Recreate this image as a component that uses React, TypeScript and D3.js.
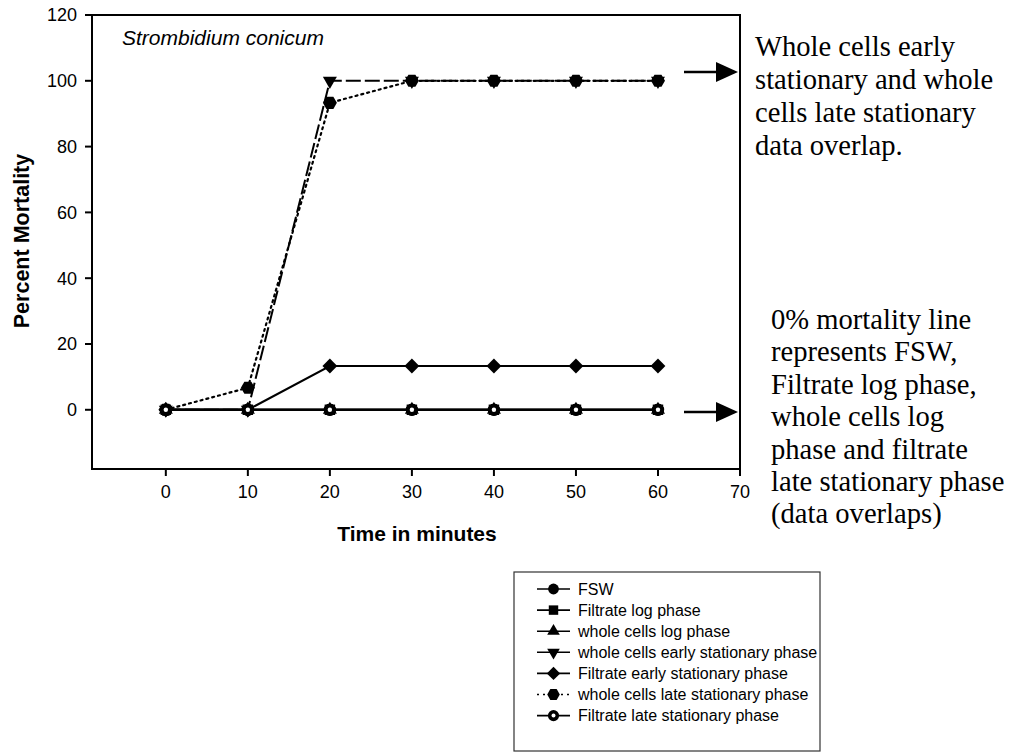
import React from "react";
import * as d3 from "d3";

const timeMinutes = [0, 10, 20, 30, 40, 50, 60];
const fsw = [0, 0, 0, 0, 0, 0, 0];
const filtrateLog = [0, 0, 0, 0, 0, 0, 0];
const wholeCellsLog = [0, 0, 0, 0, 0, 0, 0];
const wholeCellsEarly = [0, 0, 100, 100, 100, 100, 100];
const filtrateEarly = [0, 0, 13.3, 13.3, 13.3, 13.3, 13.3];
const wholeCellsLate = [0, 6.7, 93.3, 100, 100, 100, 100];
const filtrateLate = [0, 0, 0, 0, 0, 0, 0];

const seriesNames = [
  "FSW",
  "Filtrate log phase",
  "whole cells log phase",
  "whole cells early stationary phase",
  "Filtrate early stationary phase",
  "whole cells late stationary phase",
  "Filtrate late stationary phase",
];
const xTicks = [0, 10, 20, 30, 40, 50, 60, 70];
const yTicks = [0, 20, 40, 60, 80, 100, 120];
const noteTop = ["Whole cells early", "stationary and whole", "cells late stationary", "data overlap."];
const noteBottom = [
  "0% mortality line",
  "represents FSW,",
  "Filtrate log phase,",
  "whole cells log",
  "phase and filtrate",
  "late stationary phase",
  "(data overlaps)",
];

type Marker = "circle" | "square" | "triUp" | "triDown" | "diamond" | "hexagon" | "ring";

const series: { name: string; values: number[]; marker: Marker; dash: string | null; legendDash: string | null }[] = [
  { name: seriesNames[0], values: fsw, marker: "circle", dash: null, legendDash: null },
  { name: seriesNames[1], values: filtrateLog, marker: "square", dash: null, legendDash: null },
  { name: seriesNames[2], values: wholeCellsLog, marker: "triUp", dash: null, legendDash: null },
  { name: seriesNames[3], values: wholeCellsEarly, marker: "triDown", dash: "15,4", legendDash: null },
  { name: seriesNames[4], values: filtrateEarly, marker: "diamond", dash: null, legendDash: null },
  { name: seriesNames[5], values: wholeCellsLate, marker: "hexagon", dash: "2,4", legendDash: "2,4" },
  { name: seriesNames[6], values: filtrateLate, marker: "ring", dash: null, legendDash: null },
];

const W = 1009;
const H = 753;
const box = { left: 92, right: 740, top: 15, bottom: 469 };

const x = d3.scaleLinear().domain([-9, 70]).range([box.left, box.right]);
const y = d3.scaleLinear().domain([-18, 120]).range([box.bottom, box.top]);

const hexPath = (r: number) => {
  const pts: [number, number][] = d3.range(6).map((i) => {
    const a = (Math.PI / 3) * i;
    return [r * Math.cos(a), r * Math.sin(a)];
  });
  return (d3.line()(pts) || "") + "Z";
};

function MarkerShape({ kind, cx, cy, scale = 1 }: { kind: Marker; cx: number; cy: number; scale?: number }) {
  const t = `translate(${cx},${cy}) scale(${scale})`;
  switch (kind) {
    case "circle":
      return <circle cx={cx} cy={cy} r={6 * scale} fill="#000" />;
    case "square":
      return <path transform={t} d={d3.symbol(d3.symbolSquare, 110)() || ""} fill="#000" />;
    case "triUp":
      return <path transform={t} d={d3.symbol(d3.symbolTriangle, 85)() || ""} fill="#000" />;
    case "triDown":
      return <path transform={t + " rotate(180)"} d={d3.symbol(d3.symbolTriangle, 85)() || ""} fill="#000" />;
    case "diamond":
      return <path transform={t + " rotate(45)"} d={d3.symbol(d3.symbolSquare, 110)() || ""} fill="#000" />;
    case "hexagon":
      return <path transform={t} d={hexPath(7)} fill="#000" />;
    case "ring":
      return (
        <g>
          <circle cx={cx} cy={cy} r={6.2 * scale} fill="#000" />
          <circle cx={cx} cy={cy} r={2.2 * scale} fill="#fff" />
        </g>
      );
  }
  return null;
}

export default function App() {
  const line = d3
    .line<number>()
    .x((_, i) => x(timeMinutes[i]))
    .y((d) => y(d));

  const legendX = 514;
  const legendY = 572;
  const legendW = 306;
  const legendH = 179;
  const rowH = 21.1;

  const arrow = (yy: number, key: string) => (
    <g key={key}>
      <line x1={684} x2={720} y1={yy} y2={yy} stroke="#000" strokeWidth={2.6} />
      <path d={`M716,${yy - 10} L738,${yy} L716,${yy + 10} Z`} fill="#000" />
    </g>
  );

  return (
    <div style={{ position: "absolute", left: 0, top: 0 }}>
      <svg width={W} height={H} style={{ display: "block", background: "#fff" }}>
        <rect x={0} y={0} width={W} height={H} fill="#fff" />
        <rect
          x={box.left}
          y={box.top}
          width={box.right - box.left}
          height={box.bottom - box.top}
          fill="none"
          stroke="#000"
          strokeWidth={2}
        />
        {yTicks.map((t) => (
          <g key={"yt" + t}>
            <line x1={box.left - 7} x2={box.left} y1={y(t)} y2={y(t)} stroke="#000" strokeWidth={2} />
            <text
              x={box.left - 15}
              y={y(t)}
              dy="0.36em"
              textAnchor="end"
              fontFamily="Liberation Sans, Arial, sans-serif"
              fontSize={18}
              fill="#000"
            >
              {t}
            </text>
          </g>
        ))}
        {xTicks.map((t) => (
          <g key={"xt" + t}>
            <line x1={x(t)} x2={x(t)} y1={box.bottom} y2={box.bottom + 7} stroke="#000" strokeWidth={2} />
            <text
              x={x(t)}
              y={box.bottom + 29}
              textAnchor="middle"
              fontFamily="Liberation Sans, Arial, sans-serif"
              fontSize={18}
              fill="#000"
            >
              {t}
            </text>
          </g>
        ))}
        <text
          x={417}
          y={541}
          textAnchor="middle"
          fontFamily="Liberation Sans, Arial, sans-serif"
          fontWeight="bold"
          fontSize={21}
          fill="#000"
        >
          Time in minutes
        </text>
        <text
          transform={`translate(29,${241}) rotate(-90)`}
          textAnchor="middle"
          fontFamily="Liberation Sans, Arial, sans-serif"
          fontWeight="bold"
          fontSize={21.5}
          fill="#000"
        >
          Percent Mortality
        </text>
        <text
          x={122}
          y={45}
          fontFamily="Liberation Sans, Arial, sans-serif"
          fontStyle="italic"
          fontSize={21}
          fill="#000"
        >
          Strombidium conicum
        </text>

        {series.map((s, si) => (
          <path
            key={"l" + si}
            d={line(s.values) || ""}
            fill="none"
            stroke="#000"
            strokeWidth={s.marker === "hexagon" ? 2.2 : 2}
            strokeDasharray={s.dash || undefined}
            strokeLinecap={s.marker === "hexagon" ? "round" : "butt"}
          />
        ))}
        {series.map((s, si) => (
          <g key={"m" + si}>
            {s.values.map((v, i) => (
              <MarkerShape key={i} kind={s.marker} cx={x(timeMinutes[i])} cy={y(v)} />
            ))}
          </g>
        ))}

        {arrow(72, "a1")}
        {arrow(412, "a2")}

        <g fontFamily="Liberation Serif, Times New Roman, serif" fontSize={28.6} fill="#000">
          {noteTop.map((t, i) => (
            <text key={"nt" + i} x={755} y={56 + i * 33}>
              {t}
            </text>
          ))}
          {noteBottom.map((t, i) => (
            <text key={"nb" + i} x={771} y={329 + i * 32.4}>
              {t}
            </text>
          ))}
        </g>

        <rect x={legendX} y={legendY} width={legendW} height={legendH} fill="#fff" stroke="#333" strokeWidth={1.2} />
        {series.map((s, i) => {
          const cy = legendY + 17 + i * rowH;
          return (
            <g key={"lg" + i}>
              <line
                x1={legendX + 23}
                x2={legendX + 56}
                y1={cy}
                y2={cy}
                stroke="#000"
                strokeWidth={1.6}
                strokeDasharray={s.legendDash || undefined}
              />
              <MarkerShape kind={s.marker} cx={legendX + 39.5} cy={cy} scale={0.9} />
              <text
                x={legendX + 64}
                y={cy}
                dy="0.35em"
                fontFamily="Liberation Sans, Arial, sans-serif"
                fontSize={16}
                fill="#000"
              >
                {s.name}
              </text>
            </g>
          );
        })}
      </svg>
    </div>
  );
}
